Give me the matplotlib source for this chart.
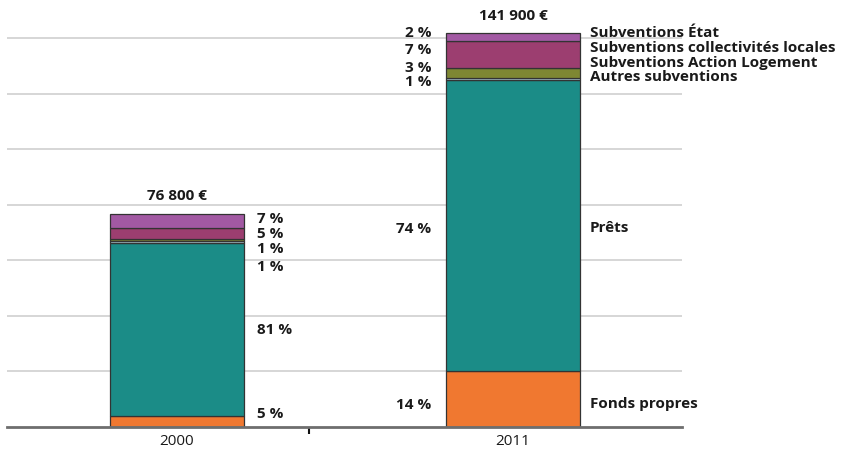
import matplotlib
matplotlib.use("Agg")
import matplotlib.pyplot as plt
import numpy as np

# data (euros), bottom to top
years = ['2000', '2011']
categories = ['Fonds propres', 'Prêts', 'Autres subventions',
              'Subventions Action Logement', 'Subventions collectivités locales',
              'Subventions État']
vals_2000 = [4100, 62200, 770, 770, 3800, 5160]
vals_2011 = [20100, 104700, 1000, 3600, 9600, 2900]
pct_2000 = ['5 %', '81 %', '1 %', '1 %', '5 %', '7 %']
pct_2011 = ['14 %', '74 %', '1 %', '3 %', '7 %', '2 %']
totals = ['76 800 €', '141 900 €']

colors = ['#F07830', '#1B8C87', '#B0CCD6', '#7E8733', '#9C3E70', '#A259A3']

plt.rcParams['font.family'] = ['Open Sans', 'DejaVu Sans']
fs = 11

fig = plt.figure(figsize=(8.42, 4.55), dpi=100)
ax = fig.add_axes([7/842, 28/455, 675/842, 416.7/455])
ax.set_xlim(-0.506, 1.503)
ax.set_ylim(0, 150000)

for y in range(20000, 150000, 20000):
    ax.axhline(y, color='#D3D3D3', lw=1.3, zorder=0)

data = np.array([vals_2000, vals_2011])
x = np.arange(len(years))
bottom = np.zeros(len(years))
for i, c in enumerate(categories):
    ax.bar(x, data[:, i], 0.4, bottom=bottom, color=colors[i],
           edgecolor='#333333', linewidth=0.9, zorder=2)
    bottom += data[:, i]

for i in range(len(years)):
    ax.text(x[i], bottom[i] + 6200, totals[i], ha='center', va='center',
            fontsize=fs, fontweight='bold', color='#1a1a1a')

# label positions (tuned by hand so small segments don't overlap)
lab_y_2000 = [4700, 34900, 57600, 64100, 69500, 74900]
lab_y_2011 = [7900, 71300, 124200, 129200, 135700, 141800]
name_y_2011 = [8300, 71700, 125900, 130900, 136400, 141700]

for i in range(len(categories)):
    ax.text(0.237, lab_y_2000[i], pct_2000[i], ha='left', va='center',
            fontsize=fs, fontweight='bold', color='#1a1a1a')
    ax.text(0.757, lab_y_2011[i], pct_2011[i], ha='right', va='center',
            fontsize=fs, fontweight='bold', color='#1a1a1a')
    ax.text(1.229, name_y_2011[i], categories[i], ha='left', va='center',
            fontsize=fs, fontweight='bold', color='#1a1a1a', clip_on=False)

for s in ['top', 'right', 'left']:
    ax.spines[s].set_visible(False)
ax.spines['bottom'].set_color('#6E6E6E')
ax.spines['bottom'].set_linewidth(2)
ax.spines['bottom'].set_zorder(3)
ax.set_yticks([])
ax.set_xticks(x)
ax.set_xticklabels(years, fontsize=fs, color='#1a1a1a')
ax.tick_params(axis='x', length=0, pad=5)
ax.set_xticks([0.393], minor=True)
ax.tick_params(axis='x', which='minor', length=5, width=1.5, color='#111111')

fig.savefig('out.png', dpi=100)
